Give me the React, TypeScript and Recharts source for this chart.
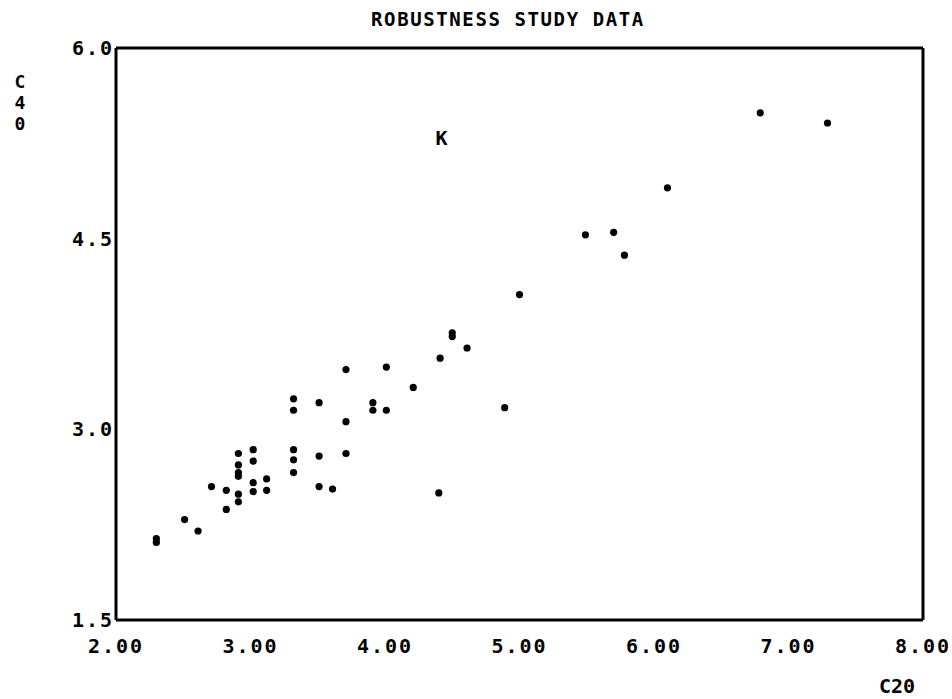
import React from 'react';
import {
  ScatterChart,
  Scatter,
  XAxis,
  YAxis,
  ReferenceLine,
} from 'recharts';

// C20 (x) and C40 (y)
const c20 = [
  2.30, 2.30, 2.51, 2.61, 2.71, 2.82, 2.82,
  2.91, 2.91, 2.91, 2.91, 2.91, 2.91,
  3.02, 3.02, 3.02, 3.02, 3.12, 3.12,
  3.32, 3.32, 3.32, 3.32, 3.32,
  3.51, 3.51, 3.51, 3.61,
  3.71, 3.71, 3.71, 3.91, 3.91,
  4.01, 4.01, 4.21, 4.40, 4.41,
  4.50, 4.50, 4.61, 4.89, 5.00,
  5.49, 5.70, 5.78, 6.10, 6.79, 7.29,
];
const c40 = [
  2.11, 2.14, 2.29, 2.20, 2.55, 2.52, 2.37,
  2.81, 2.72, 2.66, 2.63, 2.49, 2.43,
  2.84, 2.75, 2.58, 2.51, 2.61, 2.52,
  3.24, 3.15, 2.84, 2.76, 2.66,
  3.21, 2.79, 2.55, 2.53,
  3.47, 3.06, 2.81, 3.21, 3.15,
  3.49, 3.15, 3.33, 2.50, 3.56,
  3.73, 3.76, 3.64, 3.17, 4.06,
  4.53, 4.55, 4.37, 4.90, 5.49, 5.41,
];

// the stray "K" symbol plotted up top
const markX = [4.42];
const markY = [5.29];

const xTicks = [2, 3, 4, 5, 6, 7, 8];
const yTicks = [1.5, 3.0, 4.5, 6.0];

const points = c20.map((x, i) => ({ x, y: c40[i] }));
const marks = markX.map((x, i) => ({ x, y: markY[i] }));

const FONT = '"DejaVu Sans Mono", monospace';
const tickStyle = { fill: '#000', fontSize: 20, fontWeight: 700, fontFamily: FONT, letterSpacing: 2 };

const Dot = (props: any) => <circle cx={props.cx} cy={props.cy} r={3.6} fill="#000" />;
const KMark = (props: any) => (
  <text
    x={props.cx}
    y={props.cy}
    dy={7}
    textAnchor="middle"
    fontFamily={FONT}
    fontWeight={700}
    fontSize={20}
    fill="#000"
  >
    K
  </text>
);

const App: React.FC = () => {
  return (
    <div style={{ position: 'absolute', left: 0, top: 0, width: 952, height: 699, background: '#fff', fontFamily: FONT }}>
      <div
        style={{
          position: 'absolute', left: 0, width: 1016, top: 8, textAlign: 'center',
          fontSize: 19, fontWeight: 700, letterSpacing: 1.6, color: '#000',
        }}
      >
        ROBUSTNESS STUDY DATA
      </div>
      <div
        style={{
          position: 'absolute', left: 12, top: 71, width: 16, textAlign: 'center',
          fontSize: 18, fontWeight: 700, lineHeight: '21px', color: '#000',
        }}
      >
        C<br />4<br />0
      </div>
      <div
        style={{
          position: 'absolute', left: 879, top: 674, fontSize: 20, fontWeight: 700, color: '#000',
        }}
      >
        C20
      </div>
      <ScatterChart width={952} height={699} margin={{ top: 48, right: 29, left: 56, bottom: 39 }}>
        <XAxis
          type="number"
          dataKey="x"
          domain={[2, 8]}
          ticks={xTicks}
          tickFormatter={(v) => v.toFixed(2)}
          axisLine={{ stroke: '#000', strokeWidth: 3 }}
          tickLine={false}
          tickSize={0}
          tickMargin={19}
          height={40}
          tick={tickStyle}
          interval={0}
        />
        <YAxis
          type="number"
          dataKey="y"
          domain={[1.5, 6]}
          ticks={yTicks}
          tickFormatter={(v) => v.toFixed(1)}
          axisLine={{ stroke: '#000', strokeWidth: 3 }}
          tickLine={false}
          tickSize={0}
          tickMargin={2}
          width={60}
          tick={tickStyle}
          interval={0}
        />
        <ReferenceLine y={6} stroke="#000" strokeWidth={3} />
        <ReferenceLine x={8} stroke="#000" strokeWidth={3} />
        <Scatter data={points} shape={Dot} isAnimationActive={false} />
        <Scatter data={marks} shape={KMark} isAnimationActive={false} />
      </ScatterChart>
    </div>
  );
};

export default App;
